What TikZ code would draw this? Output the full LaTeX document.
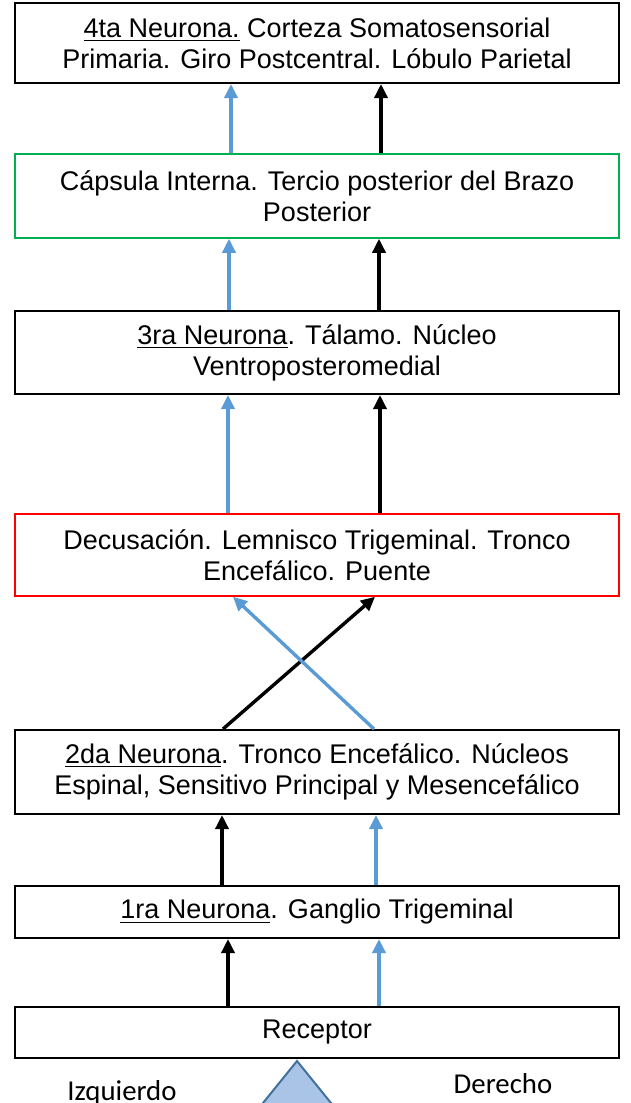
\documentclass[tikz,border=0pt]{standalone}
\usepackage{fontspec}
\setmainfont{Liberation Sans}
\newfontfamily\calibri{Carlito}
\usepackage{tikz}
\usetikzlibrary{arrows.meta, calc}
\definecolor{azulflecha}{RGB}{91,155,213}
\definecolor{verdecaja}{RGB}{0,176,80}
\definecolor{rojocaja}{RGB}{255,0,0}
\definecolor{azulrelleno}{RGB}{169,196,230}
\definecolor{azulborde}{RGB}{65,113,156}

\begin{document}
\begin{tikzpicture}[x=0.5pt,y=-0.5pt]
\tikzset{font=\fontsize{13.5}{15.5}\selectfont}
\tikzset{caja/.style={draw, line width=1pt, minimum width=302pt, inner sep=0pt, align=center}}
\tikzset{cajaverde/.style={caja, draw=verdecaja, line width=0.75pt}}
\tikzset{cajaroja/.style={caja, draw=rojocaja, line width=0.75pt}}
\tikzset{flechanegra/.style={draw=black, line width=1.7pt, -{Triangle[length=7pt,width=6.5pt]}}}
\tikzset{flechaazul/.style={draw=azulflecha, line width=1.7pt, -{Triangle[length=7pt,width=6.5pt]}}}
\tikzset{lado/.style={font=\calibri\fontsize{14.4}{16}\selectfont, anchor=base}}
\clip (0,0) rectangle (631,1103);
\node[caja, minimum height=40pt] (cuarta) at (317,43) {\underline{4ta Neurona.} Corteza Somatosensorial\\Primaria. Giro Postcentral. Lóbulo Parietal};
\node[cajaverde, minimum height=42pt] (capsula) at (317,196) {Cápsula Interna. Tercio posterior del Brazo\\Posterior};
\node[caja, minimum height=41.5pt] (tercera) at (317,352.5) {\underline{3ra Neurona}. Tálamo. Núcleo\\Ventroposteromedial};
\node[cajaroja, minimum height=41pt] (decusacion) at (317,555) {Decusación. Lemnisco Trigeminal. Tronco\\Encefálico. Puente};
\node[caja, minimum height=42pt] (segunda) at (317,772) {\underline{2da Neurona}. Tronco Encefálico. Núcleos\\Espinal, Sensitivo Principal y Mesencefálico};
\node[caja, minimum height=26pt] (primera) at (317,912) {\underline{1ra Neurona}. Ganglio Trigeminal};
\node[caja, minimum height=25.5pt] (receptor) at (317,1032.5) {Receptor};
\node[lado] (izquierdo) at (122,1100) {Izquierdo};
\node[lado] (derecho) at (503,1093) {Derecho};
\draw[flechaazul] ($(capsula.north)+(-86,0)$) -- ($(cuarta.south)+(-86,0)$);
\draw[flechanegra] ($(capsula.north)+(64,0)$) -- ($(cuarta.south)+(64,0)$);
\draw[flechaazul] ($(tercera.north)+(-88,0)$) -- ($(capsula.south)+(-88,0)$);
\draw[flechanegra] ($(tercera.north)+(62,0)$) -- ($(capsula.south)+(62,0)$);
\draw[flechaazul] ($(decusacion.north)+(-89,0)$) -- ($(tercera.south)+(-89,0)$);
\draw[flechanegra] ($(decusacion.north)+(63,0)$) -- ($(tercera.south)+(63,0)$);
\draw[flechanegra] ($(segunda.north)+(-94,0)$) -- ($(decusacion.south)+(58,0)$);
\draw[flechaazul] ($(segunda.north)+(57,0)$) -- ($(decusacion.south)+(-84,0)$);
\draw[flechanegra] ($(primera.north)+(-95,0)$) -- ($(segunda.south)+(-95,0)$);
\draw[flechaazul] ($(primera.north)+(59,0)$) -- ($(segunda.south)+(59,0)$);
\draw[flechanegra] ($(receptor.north)+(-89,0)$) -- ($(primera.south)+(-89,0)$);
\draw[flechaazul] ($(receptor.north)+(62,0)$) -- ($(primera.south)+(62,0)$);
\filldraw[fill=azulrelleno, draw=azulborde, line width=1pt] (297,1061) -- (233,1140) -- (361,1140) -- cycle;
\end{tikzpicture}
\end{document}
